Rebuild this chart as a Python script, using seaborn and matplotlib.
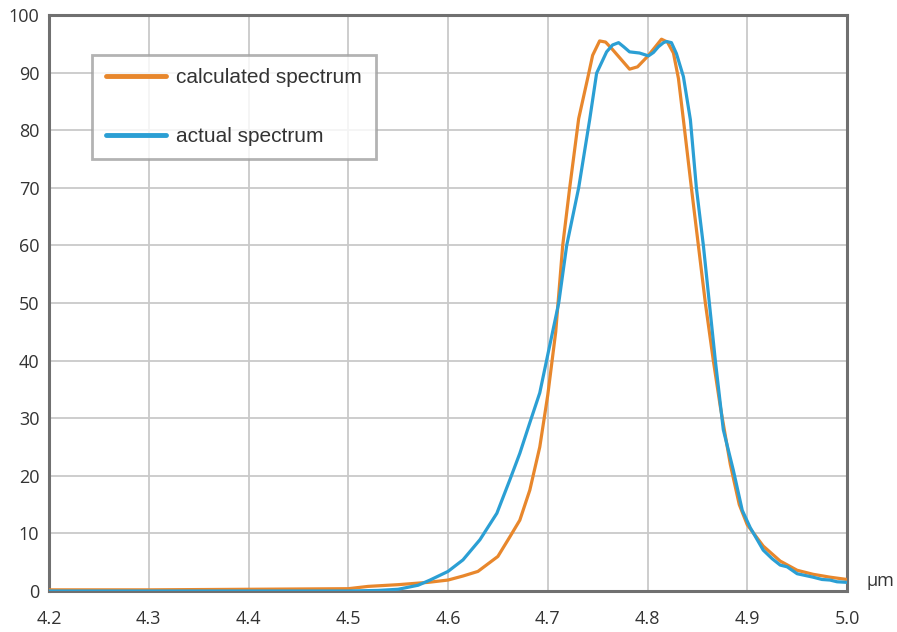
import numpy as np
import pandas as pd
import matplotlib
matplotlib.use("Agg")
import matplotlib.pyplot as plt
import seaborn as sns

# ---- data ----
calc_x = [4.20, 4.30, 4.40, 4.50, 4.52, 4.55, 4.58, 4.60, 4.615, 4.63, 4.65, 4.662,
          4.672, 4.682, 4.692, 4.70, 4.708, 4.715, 4.722, 4.731, 4.74, 4.745, 4.752,
          4.758, 4.765, 4.775, 4.782, 4.79, 4.80, 4.808, 4.814, 4.82, 4.826, 4.831,
          4.836, 4.844, 4.851, 4.858, 4.866, 4.873, 4.883, 4.892, 4.90, 4.916, 4.933,
          4.95, 4.966, 4.983, 5.00]
calc_y = [0.2, 0.2, 0.3, 0.4, 0.8, 1.1, 1.5, 1.9, 2.6, 3.4, 6.0, 9.4,
          12.3, 17.5, 25.0, 34.0, 45.0, 60.0, 70.0, 82.0, 89.0, 93.0, 95.5,
          95.3, 94.0, 92.0, 90.6, 91.0, 92.8, 94.5, 95.8, 95.3, 93.4, 89.0,
          81.8, 70.0, 60.0, 50.0, 40.0, 32.0, 22.0, 15.0, 11.5, 7.8, 5.2,
          3.6, 2.9, 2.4, 2.0]

act_x = [4.20, 4.30, 4.40, 4.50, 4.53, 4.55, 4.57, 4.582, 4.60, 4.615, 4.632, 4.649,
         4.662, 4.672, 4.682, 4.692, 4.70, 4.711, 4.719, 4.731, 4.742, 4.749, 4.759,
         4.765, 4.771, 4.776, 4.782, 4.792, 4.801, 4.806, 4.811, 4.816, 4.819, 4.824,
         4.829, 4.836, 4.843, 4.849, 4.856, 4.862, 4.868, 4.876, 4.886, 4.895, 4.903,
         4.916, 4.925, 4.933, 4.94, 4.95, 4.958, 4.966, 4.975, 4.983, 4.99, 5.00]
act_y = [0.0, 0.0, 0.0, 0.0, 0.1, 0.3, 1.0, 1.9, 3.4, 5.4, 8.9, 13.5,
         19.3, 23.9, 29.2, 34.4, 41.0, 50.0, 60.0, 70.0, 81.8, 89.9, 93.6,
         94.8, 95.2, 94.5, 93.6, 93.4, 92.9, 93.5, 94.5, 95.2, 95.4, 95.2,
         93.3, 89.3, 81.8, 70.0, 60.0, 50.0, 40.0, 28.0, 21.0, 14.0, 11.0,
         7.1, 5.6, 4.5, 4.2, 3.0, 2.7, 2.4, 2.0, 1.9, 1.6, 1.5]

x_ticks = [4.2, 4.3, 4.4, 4.5, 4.6, 4.7, 4.8, 4.9, 5.0]
y_ticks = [0, 10, 20, 30, 40, 50, 60, 70, 80, 90, 100]
labels = ["calculated spectrum", "actual spectrum"]
colors = ["#E8872C", "#2B9FD4"]

sns.set_style("white")
plt.rcParams["font.family"] = ["Open Sans", "DejaVu Sans"]

fig = plt.figure(figsize=(8.97, 6.32), dpi=100)
ax = fig.add_axes([49 / 897, 41 / 632, 798 / 897, 576 / 632])

df_c = pd.DataFrame({"x": calc_x, "y": calc_y})
df_a = pd.DataFrame({"x": act_x, "y": act_y})
sns.lineplot(data=df_c, x="x", y="y", ax=ax, color=colors[0], lw=2.3,
             label=labels[0], zorder=3)
sns.lineplot(data=df_a, x="x", y="y", ax=ax, color=colors[1], lw=2.3,
             label=labels[1], zorder=4)

ax.set_xlim(4.2, 5.0)
ax.set_ylim(0, 100)
ax.set_xticks(x_ticks)
ax.set_xticklabels([f"{v:.1f}" for v in x_ticks])
ax.set_yticks(y_ticks)
ax.set_xlabel("")
ax.set_ylabel("")
ax.grid(True, color="#c9c9c9", lw=1.3)
ax.set_axisbelow(True)
for s in ax.spines.values():
    s.set_visible(True)
    s.set_color("#707070")
    s.set_linewidth(2.2)
ax.tick_params(axis="both", length=0, labelsize=13, colors="#333333")
ax.tick_params(axis="x", pad=14)
ax.tick_params(axis="y", pad=7)

ax.text(1.025, 0.018, "µm", transform=ax.transAxes, fontsize=13,
        color="#333333", ha="left", va="center")

leg = ax.legend(loc="upper left", bbox_to_anchor=(0.054, 0.931),
                borderaxespad=0, frameon=True, fancybox=False,
                prop={"family": "Liberation Sans", "size": 15},
                handlelength=2.9, handleheight=0.7, handletextpad=0.5,
                labelspacing=1.9, borderpad=0.65)
leg.get_frame().set_edgecolor("#a0a0a0")
leg.get_frame().set_linewidth(2.0)
for t in leg.get_texts():
    t.set_color("#333333")
for h in leg.get_lines():
    h.set_linewidth(3.5)

fig.savefig("out.png", dpi=100)
